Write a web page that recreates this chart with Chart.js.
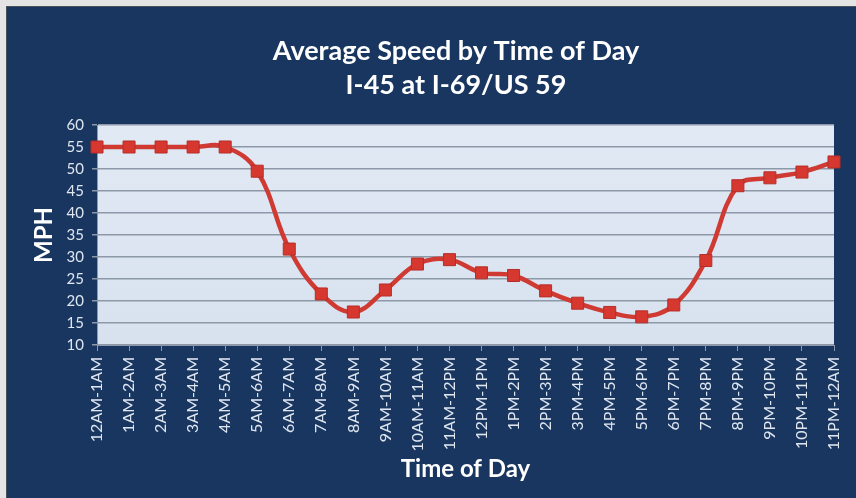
<!DOCTYPE html>
<html>
<head>
<meta charset="utf-8">
<script src="https://cdn.jsdelivr.net/npm/chart.js@4.4.1/dist/chart.umd.min.js"></script>
<style>
  html, body { margin: 0; padding: 0; background: #e4e4e4; }
  #wrap {
    position: absolute; left: 6px; top: 6px; width: 850px; height: 492px;
    border-left: 1px solid #4b4f57; border-top: 1px solid #4b4f57;
    background: #18365f;
  }
  canvas { display: block; }
</style>
</head>
<body>
<div id="wrap"><canvas id="speed-chart" width="849" height="491"></canvas></div>
<script>
/* Average speed by hour, I-45 at I-69/US 59 */

const timeLabels = ['12AM-1AM','1AM-2AM','2AM-3AM','3AM-4AM','4AM-5AM','5AM-6AM',
  '6AM-7AM','7AM-8AM','8AM-9AM','9AM-10AM','10AM-11AM','11AM-12PM',
  '12PM-1PM','1PM-2PM','2PM-3PM','3PM-4PM','4PM-5PM','5PM-6PM',
  '6PM-7PM','7PM-8PM','8PM-9PM','9PM-10PM','10PM-11PM','11PM-12AM'];
const avgSpeed = [55, 55, 55, 55, 55, 49.5, 31.8, 21.6, 17.5, 22.5, 28.4, 29.4,
  26.4, 25.8, 22.3, 19.5, 17.4, 16.4, 19.1, 29.2, 46.2, 48, 49.3, 51.6];
const titleLines = ['Average Speed by Time of Day', 'I-45 at I-69/US 59'];
const yMin = 10;
const yMax = 60;
const yStep = 5;

const FONT = 'Lato, "Open Sans", sans-serif';
const TEXT = '#dfe6f0';
const GRID = '#8d99a8';

// light plot area behind the line
const plotBg = {
  id: 'plotBg',
  beforeDraw(chart) {
    const { ctx, chartArea: a } = chart;
    const g = ctx.createLinearGradient(0, a.top, 0, a.bottom);
    g.addColorStop(0, '#e1e9f4');
    g.addColorStop(1, '#d8e2ef');
    ctx.save();
    ctx.fillStyle = g;
    ctx.fillRect(a.left, a.top, a.right - a.left, a.bottom - a.top);
    ctx.restore();
  }
};

// two-line title, centred a little left of the plot centre like the slide
const slideTitle = {
  id: 'slideTitle',
  afterDraw(chart) {
    const ctx = chart.ctx;
    ctx.save();
    ctx.fillStyle = '#ffffff';
    ctx.font = 'bold 27px ' + FONT;
    ctx.textAlign = 'center';
    ctx.textBaseline = 'alphabetic';
    ctx.fillText(titleLines[0], 449, 53);
    ctx.fillText(titleLines[1], 449, 87);
    ctx.restore();
  }
};

new Chart(document.getElementById('speed-chart'), {
  type: 'line',
  data: {
    labels: timeLabels,
    datasets: [{
      label: 'MPH',
      data: avgSpeed,
      borderColor: '#cf3a33',
      borderWidth: 4.5,
      tension: 0.4,
      pointStyle: 'rect',
      pointRadius: 8.5,
      pointBackgroundColor: '#d6382f',
      pointBorderColor: '#b52e28',
      pointBorderWidth: 1
    }]
  },
  options: {
    responsive: false,
    animation: false,
    layout: { padding: { left: 0, right: 22, top: 118, bottom: 0 } },
    plugins: {
      legend: { display: false },
      tooltip: { enabled: false },
      title: { display: false }
    },
    scales: {
      x: {
        offset: false,
        afterFit: (s) => { s.height = 153; s.paddingLeft = 0; s.paddingRight = 0; },
        grid: { drawOnChartArea: false, color: GRID, tickLength: 6 },
        border: { color: GRID },
        ticks: { color: TEXT, font: { family: FONT, size: 16 }, maxRotation: 90, minRotation: 90, padding: 6, autoSkip: false },
        title: {
          display: true, text: 'Time of Day', color: '#ffffff',
          font: { family: FONT, size: 24, weight: 'bold' },
          padding: { top: 14, bottom: 14 }
        }
      },
      y: {
        min: yMin,
        max: yMax,
        afterFit: (s) => { s.width = 90; },
        grid: { color: GRID, lineWidth: 1.5, tickLength: 5 },
        border: { color: GRID },
        ticks: { stepSize: yStep, color: TEXT, font: { family: FONT, size: 15 }, padding: 8 },
        title: {
          display: true, text: 'MPH', color: '#ffffff',
          font: { family: FONT, size: 24, weight: 'bold' },
          padding: { top: 23, bottom: 23 }
        }
      }
    }
  },
  plugins: [plotBg, slideTitle]
});
</script>
</body>
</html>
